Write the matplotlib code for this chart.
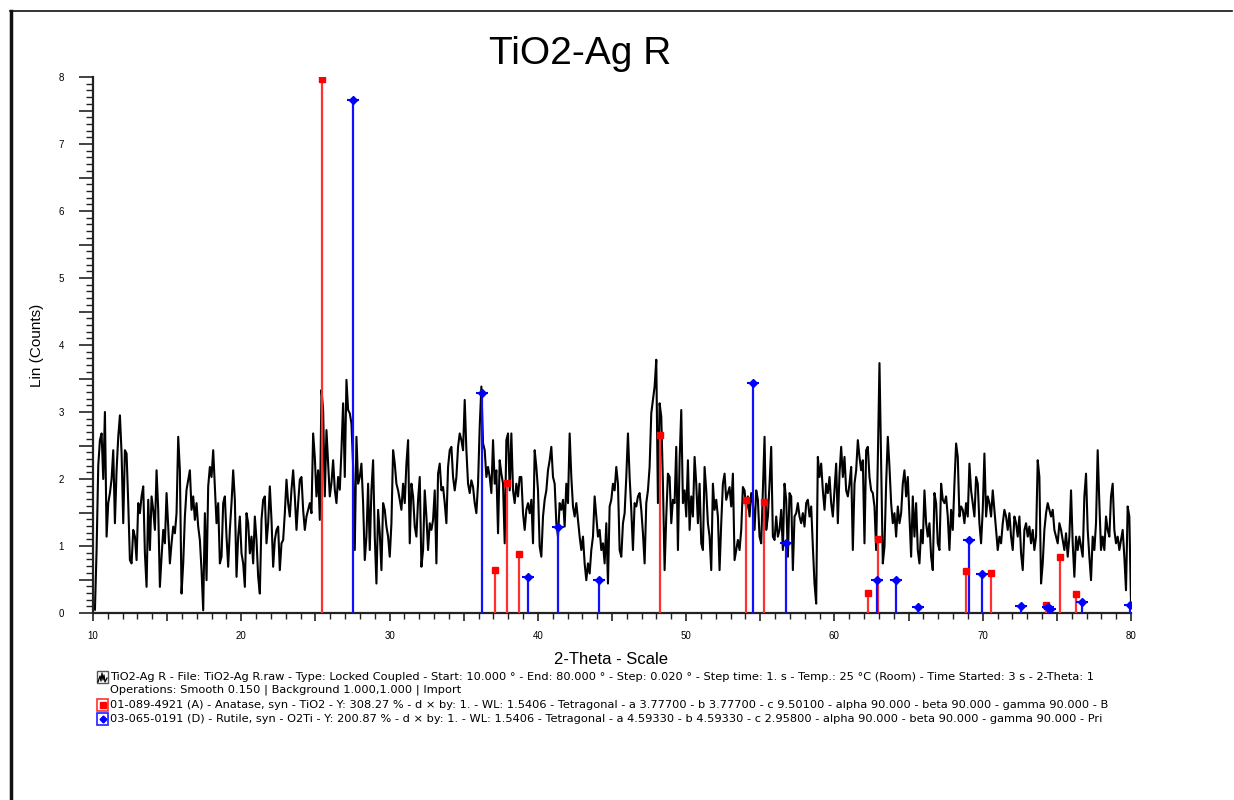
import numpy as np
import matplotlib
matplotlib.use("Agg")
import matplotlib.pyplot as plt
from matplotlib.patches import Rectangle
from matplotlib.lines import Line2D
from matplotlib.ticker import MultipleLocator, FuncFormatter

plt.rcParams['font.family'] = ['Liberation Sans', 'DejaVu Sans']

# ---------------- data ----------------
title = "TiO2-Ag R"
x_label = "2-Theta - Scale"
y_label = "Lin (Counts)"

scan_start = 10.13
scan_end = 80.0

counts_a = [0.05, 0.94, 2.2, 2.58, 2.68, 2.0, 3.0, 1.14, 1.64, 1.79, 2.0, 2.43, 1.34, 2.13, 2.63, 2.95, 2.38, 1.34,
            2.43, 2.38, 1.64, 0.79, 0.74, 1.24, 1.14, 0.79, 1.64, 1.49, 1.74, 1.89, 0.89, 0.39, 1.69, 0.94, 1.74,
            1.54, 1.24, 2.13, 1.54, 0.39, 0.84, 1.24, 1.04, 1.79, 1.29, 0.74, 1.04, 1.29, 1.19, 1.49, 2.63, 2.13,
            0.29, 0.74, 1.44, 1.84, 1.99, 2.13, 1.54, 1.74, 1.39, 1.64, 1.29, 1.09, 0.64, 0.04, 1.49, 0.49, 1.89,
            2.18, 2.03, 2.43, 1.89, 1.34, 1.64, 0.74, 0.84, 1.64, 1.74, 1.14, 0.69, 1.24, 1.64, 2.13, 1.69, 0.54,
            1.14, 1.44, 0.89, 0.74, 0.39, 1.49, 1.34, 0.89, 1.14, 0.74, 1.44, 1.09, 0.54, 0.29, 1.39, 1.69, 1.74,
            1.04, 1.34, 1.89, 1.39, 0.69, 1.09, 1.24, 1.29, 0.64, 1.04, 1.09, 1.49, 1.99, 1.64, 1.44, 1.84, 2.13,
            1.74, 1.24, 1.64, 1.99, 2.03, 1.54, 1.24, 1.44, 1.54, 1.64, 1.49, 2.68, 2.33, 1.74, 2.13, 1.39, 3.33,
            3.03, 1.74, 2.73, 2.23, 1.74, 1.94, 2.28, 1.84, 1.64, 2.03, 1.84, 2.43, 3.13, 2.03, 3.48, 3.03, 2.98,
            2.83, 2.2]

counts_b = [0.94, 2.63, 1.93, 2.03, 2.23, 1.64, 0.79, 1.14, 1.93, 0.94, 1.83, 2.28, 1.14, 0.44, 1.54, 1.19, 0.64,
            1.64, 1.54, 1.29, 1.14, 0.84, 1.34, 2.43, 2.23, 1.93, 1.83, 1.69, 1.54, 1.93, 1.64, 2.23, 2.58, 1.04,
            1.93, 1.74, 1.29, 1.14, 1.69, 2.03, 0.69, 0.94, 1.83, 1.44, 0.94, 1.34, 1.24, 1.39, 1.83, 0.74, 2.08,
            2.23, 1.83, 1.88, 1.64, 1.34, 2.18, 2.43, 2.48, 2.03, 1.83, 2.03, 2.48, 2.68, 2.58, 2.43, 3.18, 2.43,
            1.93, 1.79, 1.98, 1.88, 1.64, 1.49, 1.93, 2.78, 3.38, 2.53, 2.43, 2.03, 2.18, 2.03, 1.79, 2.58, 1.93,
            2.13, 1.19, 2.28, 2.08, 1.93, 1.04, 2.58, 2.68, 1.83, 2.68, 1.83, 1.64, 1.93, 1.74, 2.03, 2.03, 1.49,
            1.24, 1.54, 1.64, 1.49, 1.69, 1.04, 2.43, 2.18, 1.83, 0.99, 0.84, 1.44, 1.69, 1.83, 2.13, 2.28, 2.48,
            2.03, 1.93, 1.34, 1.14, 1.64, 1.54, 1.69, 1.29, 1.93, 1.64, 2.68, 2.03, 1.59, 1.44, 1.64, 1.39, 1.14,
            0.94, 1.14, 0.74, 0.49, 0.74, 0.59, 0.94, 1.14, 1.74, 1.44, 1.14, 1.24, 0.94, 1.04, 0.74, 1.34, 0.44,
            1.59, 1.69, 1.93]

counts_c = [1.83, 2.18, 1.93, 0.94, 0.84, 1.34, 1.49, 2.03, 2.68, 2.03, 1.54, 0.94, 1.64, 1.59, 1.74, 1.79, 1.54,
            1.19, 0.74, 1.64, 1.83, 2.18, 2.98, 3.18, 3.38, 3.78, 1.64, 3.13, 2.93, 1.93, 0.64, 1.44, 2.08, 2.03,
            1.34, 1.69, 1.64, 2.48, 0.94, 2.28, 3.03, 1.64, 1.83, 1.44, 2.28, 1.24, 1.74, 1.44, 2.33, 1.93, 1.34,
            1.93, 1.04, 0.94, 2.18, 1.83, 1.34, 1.14, 0.64, 1.93, 1.54, 1.69, 1.44, 0.64, 1.34, 1.93, 2.08, 1.69,
            1.79, 1.88, 1.59, 2.08, 0.79, 0.94, 1.09, 0.94, 1.24, 1.88, 1.83, 1.54, 1.74, 1.44, 1.79, 1.64, 1.24,
            1.83, 1.69, 1.14, 1.04, 1.83, 2.63, 1.24, 1.44, 1.93, 2.48, 1.14, 1.09, 1.44, 1.14, 1.24, 1.54, 0.94,
            1.93, 1.69, 0.84, 1.79, 1.74, 0.64, 1.44, 1.49, 1.64, 1.44, 1.34, 1.49, 1.29, 1.64, 1.69, 1.44, 1.59,
            0.99, 0.44, 0.14, 2.33, 2.03, 2.23, 1.83, 1.54, 1.93, 1.79, 2.03, 1.64, 1.44, 1.83, 2.23, 1.34, 2.08,
            2.48, 2.03, 2.33, 1.83, 1.74, 1.93, 2.18, 0.94, 1.93, 2.13, 2.58, 2.33, 2.13, 2.28, 1.04, 2.43, 2.48,
            2.03, 1.83, 1.79]

counts_d = [1.59, 0.94, 2.28, 3.73, 2.28, 0.74, 0.99, 1.93, 2.63, 2.18, 1.64, 1.34, 1.49, 1.14, 1.59, 1.34, 1.49,
            1.93, 2.13, 1.74, 2.03, 1.44, 0.84, 1.74, 1.14, 1.64, 0.94, 0.74, 1.24, 1.04, 1.83, 1.34, 1.14, 1.34,
            0.84, 0.64, 1.79, 1.64, 1.04, 0.94, 1.93, 1.69, 1.64, 1.74, 1.44, 0.94, 1.54, 1.24, 1.93, 2.53, 2.33,
            1.44, 1.59, 1.54, 1.34, 1.64, 1.44, 2.23, 1.83, 1.64, 1.44, 2.03, 1.93, 1.34, 1.04, 1.54, 2.38, 1.44,
            1.74, 1.64, 1.44, 1.83, 1.54, 1.24, 0.94, 1.14, 1.04, 1.34, 1.54, 1.44, 1.24, 1.49, 1.14, 0.94, 1.44,
            1.34, 1.14, 1.44, 0.89, 0.64, 1.24, 1.34, 1.14, 1.29, 1.04, 1.24, 0.94, 1.14, 2.28, 2.03, 0.44, 0.74,
            1.24, 1.49, 1.64, 1.54, 1.44, 1.54, 1.24, 1.14, 1.04, 1.34, 1.24, 1.09, 0.94, 1.19, 0.84, 1.14, 1.83,
            1.04, 0.54, 1.14, 0.94, 1.14, 0.99, 0.84, 1.74, 2.08, 1.24, 0.84, 0.49, 1.14, 0.94, 1.34, 2.43, 1.64,
            0.94, 1.14, 0.94, 1.44, 1.24, 1.14, 1.74, 1.93, 1.24, 1.04, 1.14, 0.94, 1.09, 1.24, 0.84, 0.34, 1.59,
            1.44, 0.14]

counts = counts_a + counts_b + counts_c + counts_d

# Anatase reference card 01-089-4921 (red)
anatase_2theta = [25.44, 37.11, 37.92, 38.74, 48.23, 54.07, 55.26, 62.28, 62.96, 68.90, 70.53, 74.26, 75.23, 76.28]
anatase_height = [7.97, 0.64, 1.94, 0.88, 2.66, 1.69, 1.66, 0.30, 1.10, 0.63, 0.59, 0.12, 0.84, 0.28]

# Rutile reference card 03-065-0191 (blue)
rutile_2theta = [27.55, 36.23, 39.31, 41.36, 44.14, 54.48, 56.73, 62.89, 64.15, 65.65, 69.09, 69.93, 72.58,
                 74.41, 74.55, 76.67, 79.95]
rutile_height = [7.66, 3.29, 0.54, 1.29, 0.50, 3.43, 1.05, 0.50, 0.50, 0.09, 1.09, 0.58, 0.11, 0.09, 0.06,
                 0.17, 0.12]

# legend text as visible in the reference (the panel cuts the long lines off)
legend_lines = [
    "TiO2-Ag R - File: TiO2-Ag R.raw - Type: Locked Coupled - Start: 10.000 \u00b0 - End: 80.000 \u00b0 - Step: 0.020 \u00b0 - Step time: 1. s - Temp.: 25 \u00b0C (Room) - Time Started: 3 s - 2-Theta: 1",
    "Operations: Smooth 0.150 | Background 1.000,1.000 | Import",
    "01-089-4921 (A) - Anatase, syn - TiO2 - Y: 308.27 % - d \u00d7 by: 1. - WL: 1.5406 - Tetragonal - a 3.77700 - b 3.77700 - c 9.50100 - alpha 90.000 - beta 90.000 - gamma 90.000 - B",
    "03-065-0191 (D) - Rutile, syn - O2Ti - Y: 200.87 % - d \u00d7 by: 1. - WL: 1.5406 - Tetragonal - a 4.59330 - b 4.59330 - c 2.95800 - alpha 90.000 - beta 90.000 - gamma 90.000 - Pri",
]

# ---------------- figure ----------------
W, H = 1234, 800
fig = plt.figure(figsize=(W / 100, H / 100), dpi=100)
fig.patch.set_facecolor('white')

def fx(px):
    return px / W

def fy(py):
    return 1 - py / H

ax = fig.add_axes([fx(93), fy(613), fx(1131) - fx(93), fy(77) - fy(613)])

two_theta = np.linspace(scan_start, scan_end, len(counts))
ax.plot(two_theta, counts, color='black', lw=1.5, zorder=2)

ax.vlines(anatase_2theta, 0, anatase_height, colors='#ff3030', lw=1.6, zorder=3)
ax.plot(anatase_2theta, anatase_height, ls='none', marker='s', ms=4.5, color='#ff0000', zorder=4)
ax.vlines(rutile_2theta, 0, rutile_height, colors='#1010ff', lw=1.6, zorder=3)
ax.plot(rutile_2theta, rutile_height, ls='none', marker='D', ms=4, color='#0000ff', zorder=4)
ax.plot(rutile_2theta, rutile_height, ls='none', marker='_', ms=8, mew=1.5, color='#0000ff', zorder=4)

ax.set_xlim(10, 80)
ax.set_ylim(0, 8)
for s in ['top', 'right']:
    ax.spines[s].set_visible(False)
for s in ['left', 'bottom']:
    ax.spines[s].set_color('#222222')
    ax.spines[s].set_linewidth(1.6)

ax.xaxis.set_major_locator(MultipleLocator(5))
ax.xaxis.set_minor_locator(MultipleLocator(1))
ax.xaxis.set_major_formatter(FuncFormatter(lambda v, p: f"{int(round(v))}" if round(v) % 10 == 0 else ""))
ax.yaxis.set_major_locator(MultipleLocator(0.5))
ax.yaxis.set_minor_locator(MultipleLocator(0.1))
ax.yaxis.set_major_formatter(FuncFormatter(lambda v, p: f"{int(round(v))}" if abs(v - round(v)) < 1e-6 else ""))

ax.tick_params(axis='x', which='major', direction='out', length=6, width=1.2, color='#222222',
               labelsize=7, pad=7)
ax.tick_params(axis='x', which='minor', direction='out', length=4, width=1.0, color='#222222')
ax.tick_params(axis='y', which='major', direction='out', length=10, width=1.2, color='#222222',
               labelsize=7, pad=11)
ax.tick_params(axis='y', which='minor', direction='out', length=5, width=1.0, color='#222222')

# titles and axis labels
fig.text(fx(580), fy(54), title, fontsize=28, ha='center', va='center')
fig.text(fx(611), fy(659), x_label, fontsize=12, ha='center', va='center')
fig.text(fx(37), fy(345), y_label, fontsize=11, ha='center', va='center', rotation=90)

# legend block
legend_y = [677, 690, 705, 719]
for txt, yy in zip(legend_lines, legend_y):
    fig.text(fx(110), fy(yy), txt, fontsize=8.2, ha='left', va='center', family=['DejaVu Sans'])

# legend icons
fig.add_artist(Rectangle((fx(97), fy(683)), fx(11), fy(671) - fy(683), transform=fig.transFigure,
                         facecolor='white', edgecolor='#555555', lw=1.0))
zig_x = [98, 100, 101, 102, 103, 104, 105, 107]
zig_y = [682, 676, 681, 673, 680, 675, 682, 678]
fig.add_artist(Line2D([fx(v) for v in zig_x], [fy(v) for v in zig_y], transform=fig.transFigure,
                      color='black', lw=0.9))
fig.add_artist(Rectangle((fx(97), fy(711)), fx(11), fy(699) - fy(711), transform=fig.transFigure,
                         facecolor='white', edgecolor='#ff3030', lw=1.2))
fig.add_artist(Line2D([fx(102.5)], [fy(705)], transform=fig.transFigure, marker='s', ms=4.5,
                      color='#ff0000', ls='none'))
fig.add_artist(Rectangle((fx(97), fy(725)), fx(11), fy(713) - fy(725), transform=fig.transFigure,
                         facecolor='white', edgecolor='#2020ff', lw=1.2))
fig.add_artist(Line2D([fx(102.5)], [fy(719)], transform=fig.transFigure, marker='D', ms=3.5,
                      color='#0000ff', ls='none'))

# outer frame
fig.add_artist(Line2D([fx(11), fx(11)], [fy(11), 0], transform=fig.transFigure, color='#111111', lw=2.5))
fig.add_artist(Line2D([fx(10), fx(1232)], [fy(11), fy(11)], transform=fig.transFigure, color='#111111', lw=1.2))

fig.savefig('out.png', dpi=100, facecolor='white')
